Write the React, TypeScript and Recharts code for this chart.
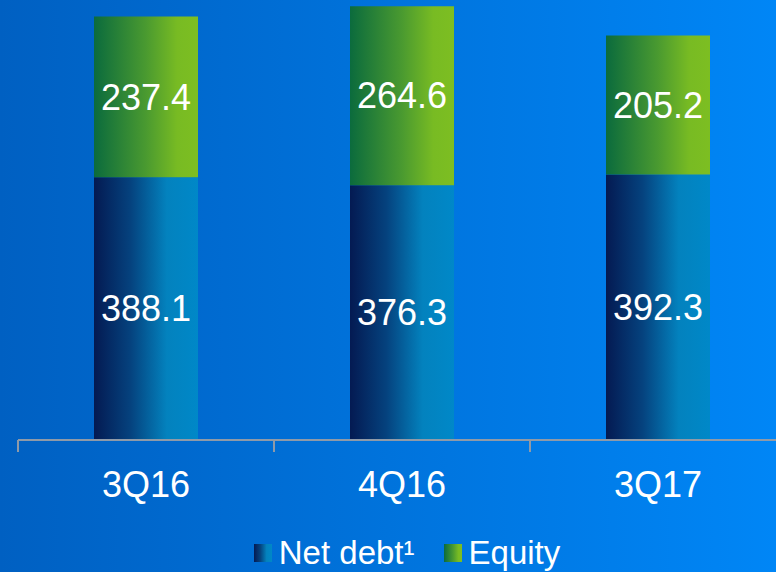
import React from 'react';
import { BarChart, Bar, XAxis, YAxis, Legend, LabelList } from 'recharts';

const categories = ['3Q16', '4Q16', '3Q17'];
const netDebt = [388.1, 376.3, 392.3];
const equity = [237.4, 264.6, 205.2];
const seriesNames = { netDebt: 'Net debt\u00B9', equity: 'Equity' };

const data = categories.map((c, i) => ({ name: c, netDebt: netDebt[i], equity: equity[i] }));

const FONT = '"Liberation Sans", Arial, Helvetica, sans-serif';
const AXIS_COLOR = '#8f9aa8';

const CustomTick = (props: any) => {
  const { x, y, payload, index, width } = props;
  const half = width / (2 * categories.length);
  return (
    <g>
      <line x1={x - half} x2={x - half} y1={y} y2={y + 12} stroke={AXIS_COLOR} strokeWidth={2} />
      {index === categories.length - 1 && (
        <line x1={x + half} x2={x + half} y1={y} y2={y + 12} stroke={AXIS_COLOR} strokeWidth={2} />
      )}
      <text x={x} y={y + 57} textAnchor="middle" fill="#ffffff" fontSize={36} fontFamily={FONT}>
        {payload.value}
      </text>
    </g>
  );
};

const LegendContent = () => (
  <div
    style={{
      display: 'flex',
      justifyContent: 'center',
      alignItems: 'center',
      height: 50,
      paddingLeft: 38,
      paddingTop: 11,
      fontFamily: FONT,
      fontSize: 33,
      color: '#ffffff',
      boxSizing: 'border-box',
    }}
  >
    <span style={{ display: 'inline-block', width: 18, height: 18, background: 'linear-gradient(90deg, #041a52, #05427e 35%, #0382be 70%, #0088c8)', marginRight: 7 }} />
    <span style={{ marginRight: 29 }}>{seriesNames.netDebt}</span>
    <span style={{ display: 'inline-block', width: 18, height: 18, background: 'linear-gradient(90deg, #0b6b3d, #4a9a30 50%, #78bb23 80%, #7dbe22)', marginRight: 7 }} />
    <span>{seriesNames.equity}</span>
  </div>
);

export default function App() {
  return (
    <div
      style={{
        position: 'absolute',
        left: 0,
        top: 0,
        width: 776,
        height: 572,
        overflow: 'hidden',
        background: 'linear-gradient(90deg, #0060c2, #0086f6)',
      }}
    >
      <BarChart width={800} height={572} data={data} margin={{ top: 0, right: 14, left: 18, bottom: 0 }}>
        <defs>
          <linearGradient id="gNet" x1="0" y1="0" x2="1" y2="0">
            <stop offset="0" stopColor="#041a52" />
            <stop offset="0.35" stopColor="#05427e" />
            <stop offset="0.7" stopColor="#0382be" />
            <stop offset="1" stopColor="#0088c8" />
          </linearGradient>
          <linearGradient id="gEq" x1="0" y1="0" x2="1" y2="0">
            <stop offset="0" stopColor="#0b6b3d" />
            <stop offset="0.5" stopColor="#4a9a30" />
            <stop offset="0.8" stopColor="#78bb23" />
            <stop offset="1" stopColor="#7dbe22" />
          </linearGradient>
        </defs>
        <XAxis
          dataKey="name"
          height={82}
          tickSize={0}
          tickMargin={0}
          tickLine={false}
          axisLine={{ stroke: AXIS_COLOR, strokeWidth: 2 }}
          tick={<CustomTick />}
          interval={0}
        />
        <YAxis hide domain={[0, 650]} />
        <Legend
          verticalAlign="bottom"
          height={50}
          content={<LegendContent />}
          wrapperStyle={{ left: 0, width: 776 }}
        />
        <Bar dataKey="netDebt" stackId="a" fill="url(#gNet)" barSize={104} isAnimationActive={false}>
          <LabelList dataKey="netDebt" position="center" fill="#ffffff" fontSize={36} fontFamily={FONT} />
        </Bar>
        <Bar dataKey="equity" stackId="a" fill="url(#gEq)" barSize={104} isAnimationActive={false}>
          <LabelList dataKey="equity" position="center" fill="#ffffff" fontSize={36} fontFamily={FONT} />
        </Bar>
      </BarChart>
    </div>
  );
}
